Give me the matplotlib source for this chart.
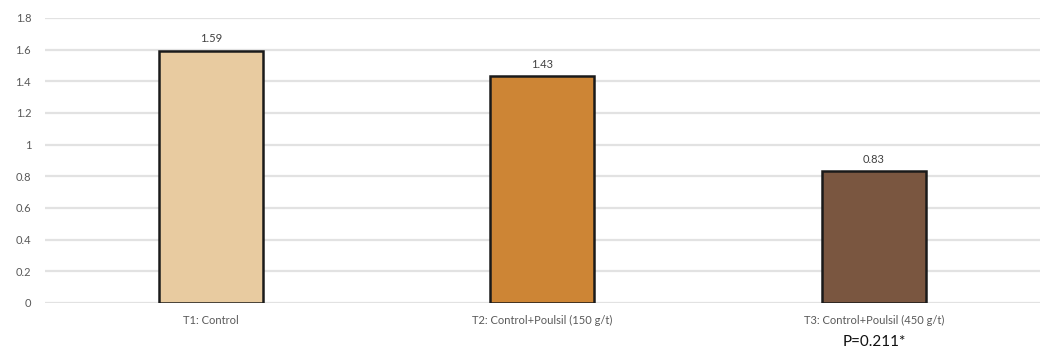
from matplotlib import pyplot as plt
import matplotlib.ticker as ticker
import numpy as np

# treatments and measured values
categories = ['T1: Control', 'T2: Control+Poulsil (150 g/t)', 'T3: Control+Poulsil (450 g/t)']
values = [1.59, 1.43, 0.83]
bar_colours = ['#E8CBA0', '#CD8535', '#7A5640']
yticks = [0, 0.2, 0.4, 0.6, 0.8, 1.0, 1.2, 1.4, 1.6, 1.8]
p_text = 'P=0.211*'

plt.rcParams['font.family'] = ['Lato', 'DejaVu Sans']

fig = plt.figure(figsize=(10.48, 3.51), dpi=100)
ax = fig.add_axes([0.043, 0.137, 0.949, 0.812])

x = np.arange(len(categories))
bars = ax.bar(x, values, width=0.314, color=bar_colours, edgecolor='#1a1a1a',
              linewidth=1.8, zorder=3)

# value labels above each bar
for xi, v in zip(x, values):
    ax.annotate('{:.2f}'.format(v), xy=(xi, v), xytext=(0, 5),
                textcoords='offset points', ha='center', va='bottom',
                fontsize=8, color='#404040')

ax.set_xlim(-0.5, 2.5)
ax.set_ylim(0, 1.8)
ax.set_yticks(yticks)
ax.yaxis.set_major_formatter(ticker.FuncFormatter(lambda v, pos: '{:g}'.format(round(v, 1))))
ax.set_xticks(x)
ax.set_xticklabels(categories)
ax.tick_params(axis='both', length=0, labelsize=8, labelcolor='#595959')
ax.tick_params(axis='x', pad=9)
ax.tick_params(axis='y', pad=10)

ax.grid(axis='y', color='#E2E2E2', linewidth=1.6, zorder=0)
for s in ax.spines.values():
    s.set_visible(False)

# significance note under the last treatment
ax.text(2, -0.245, p_text, transform=ax.transData, ha='center', va='center',
        fontsize=11, color='#111111', clip_on=False)

fig.savefig('out.png', dpi=100)
